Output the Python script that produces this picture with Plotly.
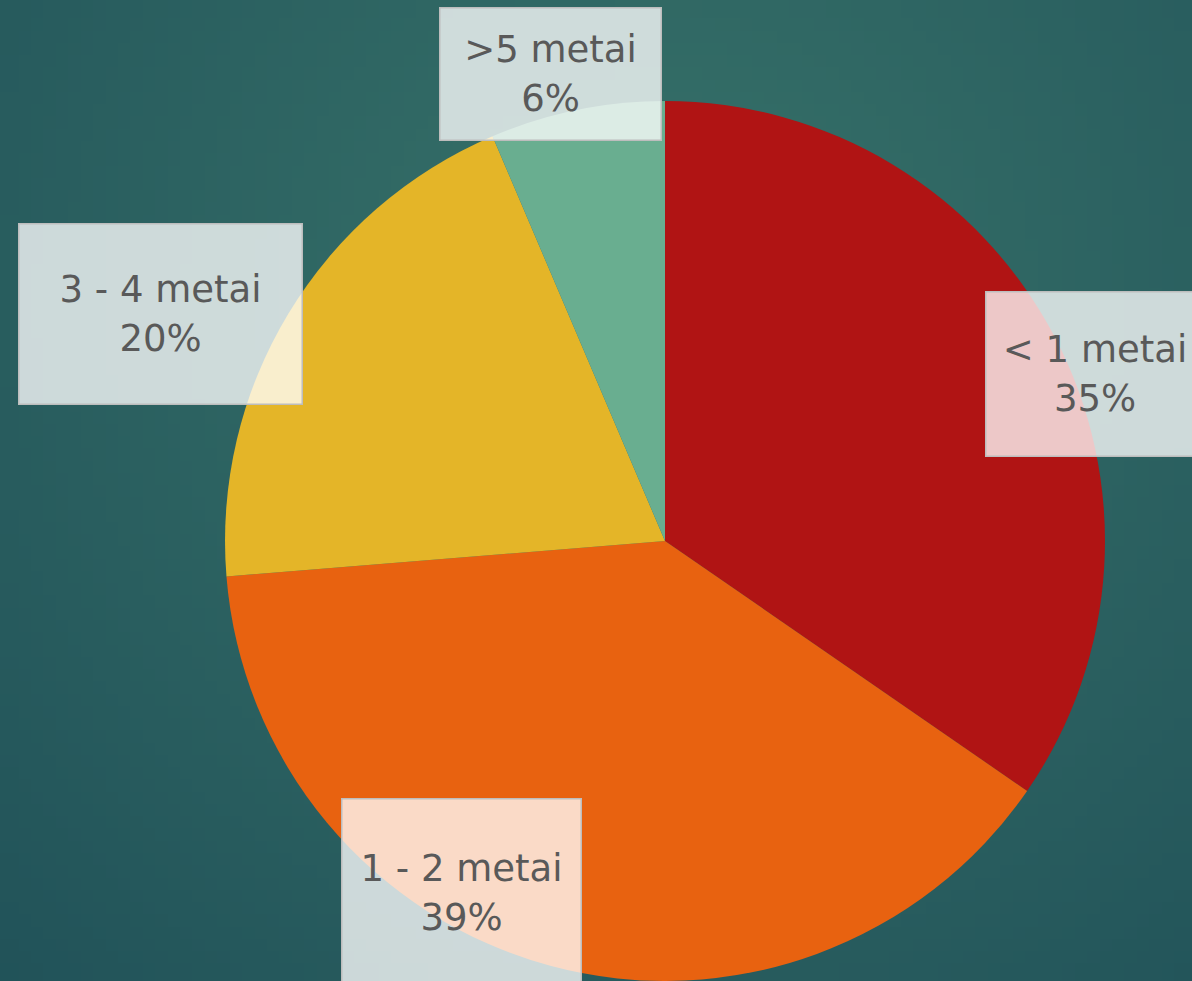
import base64, struct, zlib
import plotly.graph_objects as go

categories = ["< 1 metai", "1 - 2 metai", "3 - 4 metai", ">5 metai"]
values = [54, 61, 31, 10]
colors = ["#B01414", "#E86210", "#E4B528", "#69AE90"]

W, H = 1192, 981

# --- background gradient image (decorative) ---
def make_png(w, h):
    rows = []
    cx, cy = 0.55, 0.3
    inner = (56, 115, 106)
    outer = (33, 82, 89)
    for j in range(h):
        row = bytearray([0])
        for i in range(w):
            dx = (i / (w - 1) - cx) * 1.2
            dy = (j / (h - 1) - cy)
            d = min(1.0, (dx * dx + dy * dy) ** 0.5 / 1.0)
            c = [int(inner[k] + (outer[k] - inner[k]) * d) for k in range(3)]
            row += bytes(c)
        rows.append(bytes(row))
    raw = b"".join(rows)
    def chunk(t, d):
        return struct.pack(">I", len(d)) + t + d + struct.pack(">I", zlib.crc32(t + d) & 0xffffffff)
    png = b"\x89PNG\r\n\x1a\n" + chunk(b"IHDR", struct.pack(">IIBBBBB", w, h, 8, 2, 0, 0, 0))
    png += chunk(b"IDAT", zlib.compress(raw, 9)) + chunk(b"IEND", b"")
    return "data:image/png;base64," + base64.b64encode(png).decode()

bg = make_png(96, 80)

fig = go.Figure(go.Pie(
    labels=categories,
    values=values,
    marker=dict(colors=colors, line=dict(width=0)),
    sort=False,
    direction="clockwise",
    rotation=0,
    textinfo="none",
    hoverinfo="label+percent",
    showlegend=False,
    domain=dict(x=[(665 - 440) / W, (665 + 440) / W], y=[0, 0.897]),
))

# label boxes: (center x px, center y px, box width, box height)
boxes = [(1095, 374, 220, 166), (461, 893, 241, 190), (160, 314, 285, 182), (550, 74, 223, 134)]
total = sum(values)
annotations = []
for cat, v, (bx, by, bw, bh) in zip(categories, values, boxes):
    annotations.append(dict(
        xref="paper", yref="paper",
        x=bx / W, y=1 - by / H,
        xanchor="center", yanchor="middle",
        text=f"{cat}<br>{round(100 * v / total)}%",
        showarrow=False,
        align="center", valign="middle",
        width=bw - 3, height=bh - 3,
        bgcolor="rgba(255,255,255,0.77)",
        bordercolor="#BDBDBD", borderwidth=1.5, borderpad=0,
        font=dict(family="DejaVu Sans", size=37, color="#595959"),
    ))

fig.update_layout(
    width=W, height=H,
    margin=dict(l=0, r=0, t=0, b=0),
    paper_bgcolor="#2F6663",
    plot_bgcolor="rgba(0,0,0,0)",
    images=[dict(source=bg, xref="paper", yref="paper", x=0, y=1, sizex=1, sizey=1,
                 xanchor="left", yanchor="top", sizing="stretch", layer="below")],
    annotations=annotations,
)

fig.write_html("out.html", config={"displayModeBar": False},
               post_script="document.body.style.margin='0';document.body.style.overflow='hidden';")
